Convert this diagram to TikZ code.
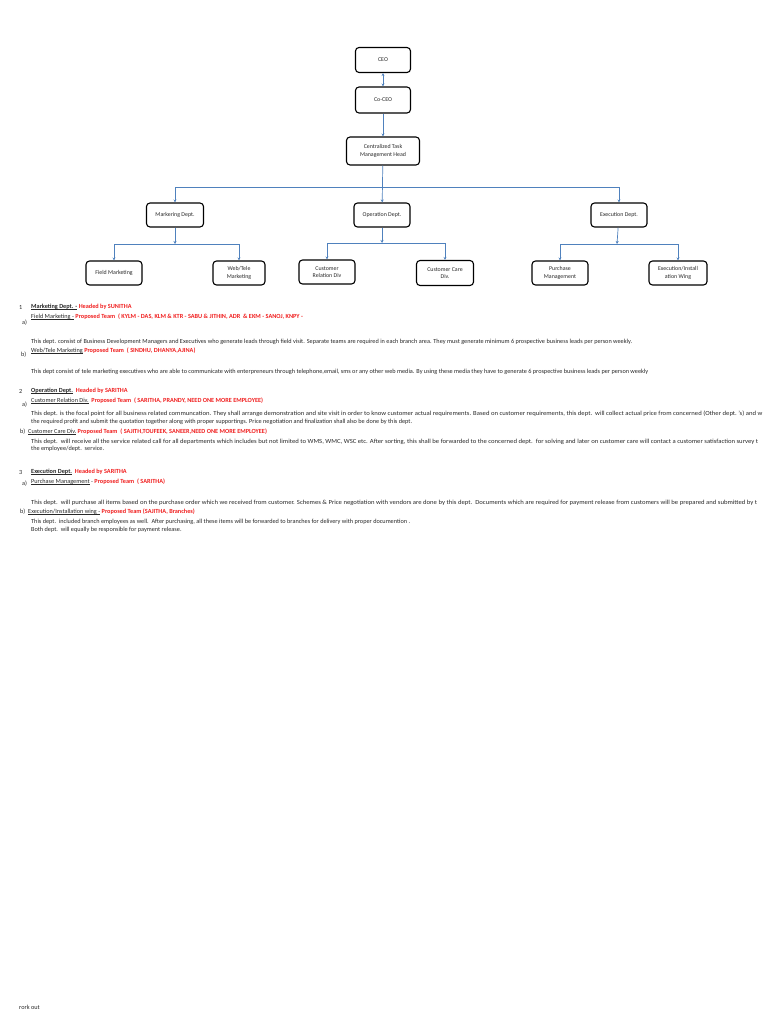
\documentclass[tikz,border=0pt]{standalone}
\usepackage{fontspec}
\setmainfont{Carlito}
\usetikzlibrary{arrows.meta}
\definecolor{lineblue}{RGB}{79,129,189}
\definecolor{txtred}{RGB}{240,30,30}
\definecolor{txtgray}{RGB}{40,40,40}
\newcommand{\rd}[1]{\textcolor{txtred}{\textbf{#1}}}
\newcommand{\ul}[1]{\setbox0\hbox{#1}\rlap{\rule[-0.9pt]{\wd0}{0.35pt}}\box0\relax}
\newcommand{\wide}[1]{\scalebox{1.07}[1]{#1}}
\tikzset{
  orgbox/.style={draw=black, line width=1.1pt, rounded corners=3.5pt, align=center,
    inner sep=1pt, font=\fontsize{5.9}{7.2}\selectfont, text=txtgray},
  conn/.style={draw=lineblue, line width=0.7pt, -{Stealth[length=3pt,width=3pt]}},
  txt/.style={anchor=west, inner sep=0pt, font=\fontsize{6.25}{7.5}\selectfont, text=txtgray},
}
\begin{document}
\begin{tikzpicture}[x=1pt,y=-1pt]
\useasboundingbox (0,0) rectangle (768,1024);
% org chart boxes
\node[orgbox, minimum width=55pt, minimum height=25pt] (ceo) at (383,60) {CEO};
\node[orgbox, minimum width=55pt, minimum height=26pt] (coceo) at (383,100) {Co-CEO};
\node[orgbox, minimum width=73pt, minimum height=28pt] (ctm) at (383,151) {Centralized Task\\Management Head};
\node[orgbox, minimum width=57pt, minimum height=24pt] (mkt) at (175,215) {Markering Dept.};
\node[orgbox, minimum width=56pt, minimum height=24pt] (op) at (382,215) {Operation Dept.};
\node[orgbox, minimum width=56pt, minimum height=24pt] (ex) at (619,215) {Execution Dept.};
\node[orgbox, minimum width=56pt, minimum height=24pt] (fm) at (114,273) {Field Marketing};
\node[orgbox, minimum width=52pt, minimum height=24pt] (wt) at (239,273) {Web/Tele\\Marketing};
\node[orgbox, minimum width=56pt, minimum height=24pt] (crd) at (327,272) {Customer\\Relation Div};
\node[orgbox, minimum width=57pt, minimum height=25pt] (ccd) at (445,273) {Customer Care\\Div.};
\node[orgbox, minimum width=56pt, minimum height=24pt] (pm) at (560,273) {Purchase\\Management};
\node[orgbox, minimum width=58pt, minimum height=24pt] (ei) at (678,273) {Execution/Install\\ation Wing};
% bus points
\coordinate (bus) at (383,187);
\coordinate (mb) at (175,244);
\coordinate (ob) at (382,243);
\coordinate (eb) at (617,244);
% connectors
\draw[conn, {Stealth[length=3pt,width=3pt]}-{Stealth[length=3pt,width=3pt]}] (ceo) -- (coceo);
\draw[conn] (coceo) -- (ctm);
\draw[conn] (ctm) -- (op);
\draw[conn] (bus) -| (mkt.north);
\draw[conn] (bus) -| (ex.north);
\draw[conn] (mkt) -- (mb);
\draw[conn] (mb) -| (fm.north);
\draw[conn] (mb) -| (wt.north);
\draw[conn] (op) -- (ob);
\draw[conn] (ob) -| (crd.north);
\draw[conn] (ob) -| (ccd.north);
\draw[conn] (ex) -- (eb);
\draw[conn] (eb) -| (pm.north);
\draw[conn] (eb) -| (ei.north);
% text section
\node[txt] (n1) at (19,307) {1};
\node[txt] (h1) at (31,307) {\textbf{\ul{Marketing Dept. -}} \rd{Headed by SUNITHA}};
\node[txt] (la) at (22,323) {a)};
\node[txt] (s1a) at (31,317) {\ul{Field Marketing -} \rd{Proposed Team\ \ ( KYLM - DAS, KLM \& KTR - SABU \& JITHIN, ADR\ \ \& EKM - SANOJ, KNPY -}};
\node[txt] (p1a) at (31,342) {This dept. consist of Business Development Managers and Executives who generate leads through field visit. Separate teams are required in each branch area. They must generate minimum 6 prospective business leads per person weekly.};
\node[txt] (lb) at (21,355) {b)};
\node[txt] (s1b) at (31,351) {\ul{Web/Tele Marketing} \rd{Proposed Team\ \ ( SINDHU, DHANYA,AJINA)}};
\node[txt] (p1b) at (31,372) {This dept consist of tele marketing executives who are able to communicate with enterpreneurs through telephone,email, sms or any other web media. By using these media they have to generate 6 prospective business leads per person weekly};
\node[txt] (n2) at (19,391) {2};
\node[txt] (h2) at (31,391) {\textbf{\ul{Operation Dept.}}\ \ \rd{Headed by SARITHA}};
\node[txt] (la2) at (22,405) {a)};
\node[txt] (s2a) at (31,401) {\ul{Customer Relation Div.}\ \ \rd{Proposed Team\ \ ( SARITHA, PRANDY, NEED ONE MORE EMPLOYEE)}};
\node[txt] (p2a) at (31,414) {\wide{This dept. is the focal point for all business related communcation. They shall arrange demonstration and site visit in order to know customer actual requirements. Based on customer requirements, this dept.\ \ will collect actual price from concerned (Other dept.\ 's) and w}};
\node[txt] (p2a2) at (31,422) {the required profit and submit the quotation together along with proper supportings. Price negotiation and finalization shall also be done by this dept.};
\node[txt] (s2b) at (20,432) {b)\ \ \ul{Customer Care Div.} \rd{Proposed Team\ \ ( SAJITH,TOUFEEK, SANEER,NEED ONE MORE EMPLOYEE)}};
\node[txt] (p2b) at (31,442) {\wide{This dept.\ \ will receive all the service related call for all departments which includes but not limited to WMS, WMC, WSC etc. After sorting, this shall be forwarded to the concerned dept.\ \ for solving and later on customer care will contact a customer satisfaction survey t}};
\node[txt] (p2b2) at (31,449) {the employee/dept.\ \ service.};
\node[txt] (n3) at (19,472) {3};
\node[txt] (h3) at (31,472) {\textbf{\ul{Execution Dept.}}\ \ \rd{Headed by SARITHA}};
\node[txt] (la3) at (22,484) {a)};
\node[txt] (s3a) at (31,482) {\ul{Purchase Management} - \rd{Proposed Team\ \ ( SARITHA)}};
\node[txt] (p3a) at (31,503) {\wide{This dept.\ \ will purchase all items based on the purchase order which we received from customer. Schemes \& Price negotiation with vendors are done by this dept.\ \ Documents which are required for payment release from customers will be prepared and submitted by t}};
\node[txt] (s3b) at (20,512) {b)\ \ \ul{Execution/Installation wing -} \rd{Proposed Team (SAJITHA, Branches)}};
\node[txt] (p3b) at (31,522) {This dept.\ \ included branch employees as well.\ \ After purchasing, all these items will be forwarded to branches for delivery with proper documention .};
\node[txt] (p3b2) at (31,530) {Both dept.\ \ will equally be responsible for payment release.};
\node[txt] (foot) at (19,1007) {rork out};
\end{tikzpicture}
\end{document}
